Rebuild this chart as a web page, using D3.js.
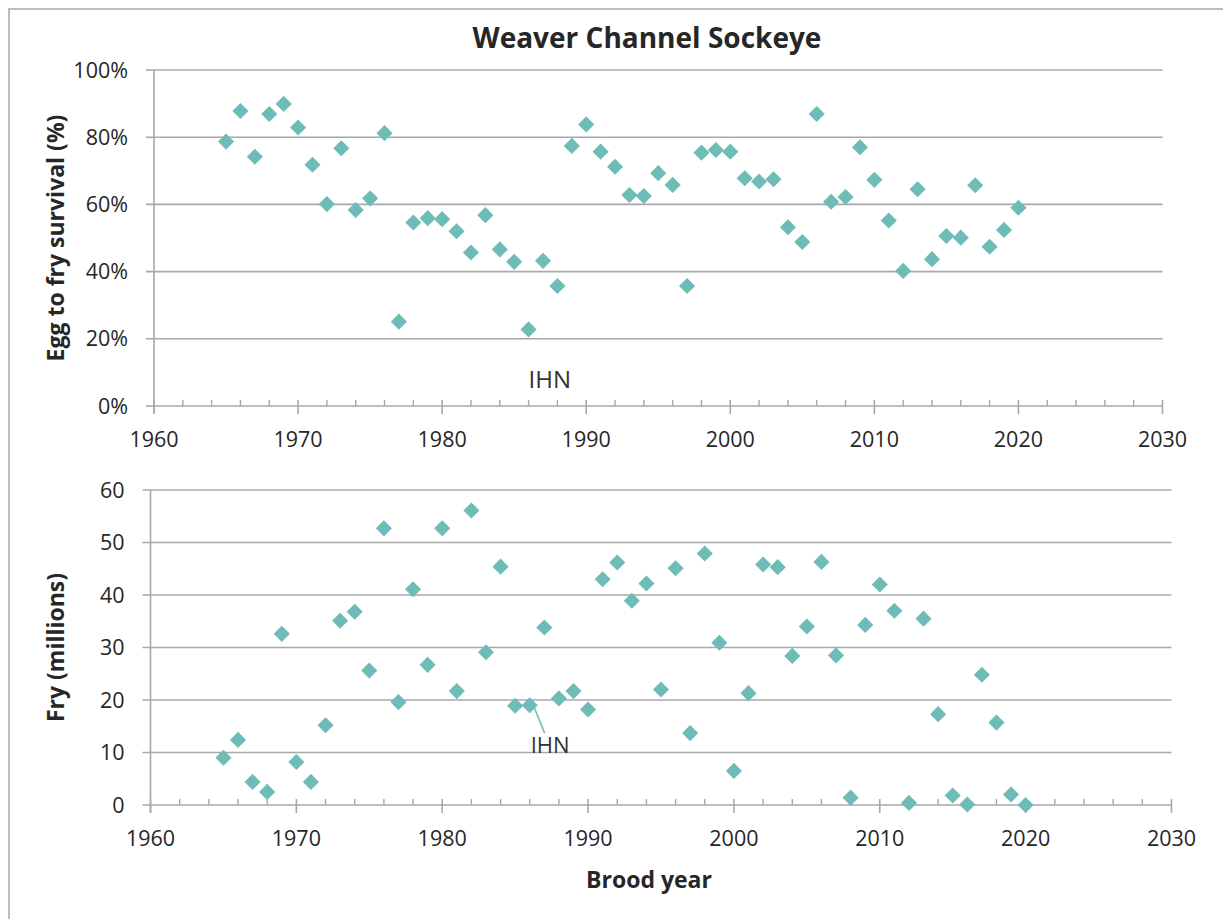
<!DOCTYPE html>
<html>
<head>
<meta charset="utf-8">
<script src="https://cdn.jsdelivr.net/npm/d3@7"></script>
<style>
  body { margin: 0; background: #fff; }
  text { font-family: "Open Sans", Lato, sans-serif; fill: #262626; }
</style>
</head>
<body>
<svg id="chart" width="1223" height="919"></svg>
<script>
// brood years
var years = [1965, 1966, 1967, 1968, 1969, 1970, 1971, 1972, 1973, 1974,
             1975, 1976, 1977, 1978, 1979, 1980, 1981, 1982, 1983, 1984,
             1985, 1986, 1987, 1988, 1989, 1990, 1991, 1992, 1993, 1994,
             1995, 1996, 1997, 1998, 1999, 2000, 2001, 2002, 2003, 2004,
             2005, 2006, 2007, 2008, 2009, 2010, 2011, 2012, 2013, 2014,
             2015, 2016, 2017, 2018, 2019, 2020];

// egg to fry survival (%)
var survival = [78.7, 87.8, 74.2, 86.9, 89.9, 82.9, 71.8, 60.1, 76.7, 58.3,
                61.8, 81.2, 25.1, 54.6, 55.9, 55.6, 52.0, 45.7, 56.8, 46.6,
                42.9, 22.8, 43.2, 35.7, 77.4, 83.8, 75.7, 71.2, 62.8, 62.5,
                69.3, 65.8, 35.7, 75.4, 76.2, 75.7, 67.8, 66.8, 67.5, 53.2,
                48.8, 86.9, 60.8, 62.2, 77.0, 67.3, 55.2, 40.2, 64.5, 43.7,
                50.6, 50.1, 65.7, 47.4, 52.4, 59.0];

// fry (millions)
var fry = [9.0, 12.4, 4.4, 2.5, 32.6, 8.2, 4.4, 15.2, 35.1, 36.8,
           25.6, 52.7, 19.6, 41.1, 26.7, 52.7, 21.7, 56.1, 29.1, 45.4,
           18.9, 19.0, 33.8, 20.3, 21.7, 18.2, 43.0, 46.2, 38.9, 42.2,
           22.0, 45.1, 13.7, 47.9, 30.9, 6.5, 21.3, 45.8, 45.3, 28.4,
           34.0, 46.3, 28.5, 1.4, 34.3, 42.0, 37.0, 0.4, 35.5, 17.3,
           1.8, 0.1, 24.8, 15.7, 2.0, 0.0];

var xTicks = [1960, 1970, 1980, 1990, 2000, 2010, 2020, 2030];
var survivalTicks = [0, 20, 40, 60, 80, 100];
var fryTicks = [0, 10, 20, 30, 40, 50, 60];
var ihnYear = 1986;

var teal = "#6dbcb7";
var gridColor = "#a8a8ac";

var svg = d3.select("#chart");

// frame (only top and left edges show in the crop)
svg.append("path")
    .attr("d", "M9,919V9H1223")
    .attr("fill", "none")
    .attr("stroke", "#bcbcc4")
    .attr("stroke-width", 2);

svg.append("text")
    .attr("x", 647)
    .attr("y", 48)
    .attr("text-anchor", "middle")
    .style("font-size", "28px")
    .style("font-weight", "bold")
    .text("Weaver Channel Sockeye");

function panel(opts) {
  var x = d3.scaleLinear().domain([1960, 2030]).range(opts.xRange);
  var y = d3.scaleLinear().domain(opts.yDomain).range(opts.yRange);
  var g = svg.append("g");
  var x0 = opts.xRange[0], x1 = opts.xRange[1];
  var y0 = opts.yRange[0], y1 = opts.yRange[1];

  // horizontal gridlines + left ticks
  g.selectAll(".grid")
      .data(opts.yTicks)
    .enter().append("line")
      .attr("x1", x0 - 8)
      .attr("x2", x1)
      .attr("y1", function(d) { return y(d); })
      .attr("y2", function(d) { return y(d); })
      .attr("stroke", gridColor)
      .attr("stroke-width", 1.6);

  // y axis line
  g.append("line")
      .attr("x1", x0).attr("x2", x0)
      .attr("y1", y1).attr("y2", y0 + 8)
      .attr("stroke", gridColor)
      .attr("stroke-width", 1.6);

  g.selectAll(".ylab")
      .data(opts.yTicks)
    .enter().append("text")
      .attr("x", x0 - 26)
      .attr("y", function(d) { return y(d); })
      .attr("dy", "0.35em")
      .attr("text-anchor", "end")
      .style("font-size", "21.5px")
      .text(opts.yFormat);

  // minor ticks every 2 years, upward
  g.selectAll(".minor")
      .data(d3.range(1962, 2030, 2).filter(function(d) { return d % 10 !== 0; }))
    .enter().append("line")
      .attr("x1", function(d) { return x(d); })
      .attr("x2", function(d) { return x(d); })
      .attr("y1", y0 - 6)
      .attr("y2", y0)
      .attr("stroke", gridColor)
      .attr("stroke-width", 1.4);

  // major ticks cross the axis
  g.selectAll(".major")
      .data(xTicks)
    .enter().append("line")
      .attr("x1", function(d) { return x(d); })
      .attr("x2", function(d) { return x(d); })
      .attr("y1", y0 - 6)
      .attr("y2", y0 + 8)
      .attr("stroke", gridColor)
      .attr("stroke-width", 1.6);

  g.selectAll(".xlab")
      .data(xTicks)
    .enter().append("text")
      .attr("x", function(d) { return x(d); })
      .attr("y", y0 + 41)
      .attr("text-anchor", "middle")
      .style("font-size", "21.5px")
      .text(function(d) { return d; });

  // axis title
  g.append("text")
      .attr("transform", "translate(64," + ((y0 + y1) / 2) + ") rotate(-90)")
      .attr("text-anchor", "middle")
      .style("font-size", "23px")
      .style("font-weight", "bold")
      .text(opts.yTitle);

  var pts = years.map(function(yr, i) { return {year: yr, value: opts.values[i]}; });

  // annotation leader line (drawn under the markers)
  var ihn = pts.filter(function(p) { return p.year === ihnYear; })[0];
  var px = x(ihn.year), py = y(ihn.value);
  if (opts.leader) {
    g.append("line")
        .attr("x1", px + 4).attr("y1", py + 1)
        .attr("x2", px + opts.leader[0]).attr("y2", py + opts.leader[1])
        .attr("stroke", teal)
        .attr("stroke-width", 1.6);
  }

  g.selectAll(".pt")
      .data(pts)
    .enter().append("path")
      .attr("d", d3.symbol().type(d3.symbolSquare).size(130))
      .attr("transform", function(p) {
        return "translate(" + x(p.year) + "," + y(p.value) + ") rotate(45)";
      })
      .attr("fill", teal);

  g.append("text")
      .attr("x", px + opts.label[0])
      .attr("y", py + opts.label[1])
      .style("font-size", opts.labelSize)
      .style("fill", "#333")
      .text("IHN");
}

panel({
  xRange: [154, 1162.5],
  yRange: [406, 70],
  yDomain: [0, 100],
  yTicks: survivalTicks,
  yFormat: function(d) { return d + "%"; },
  yTitle: "Egg to fry survival (%)",
  values: survival,
  label: [0, 59],
  labelSize: "24px"
});

panel({
  xRange: [150.5, 1171.5],
  yRange: [805, 490],
  yDomain: [0, 60],
  yTicks: fryTicks,
  yFormat: function(d) { return d; },
  yTitle: "Fry (millions)",
  values: fry,
  leader: [15, 28],
  label: [1, 48],
  labelSize: "22px"
});

svg.append("text")
    .attr("x", 649)
    .attr("y", 888)
    .attr("text-anchor", "middle")
    .style("font-size", "23px")
    .style("font-weight", "bold")
    .text("Brood year");
</script>
</body>
</html>
